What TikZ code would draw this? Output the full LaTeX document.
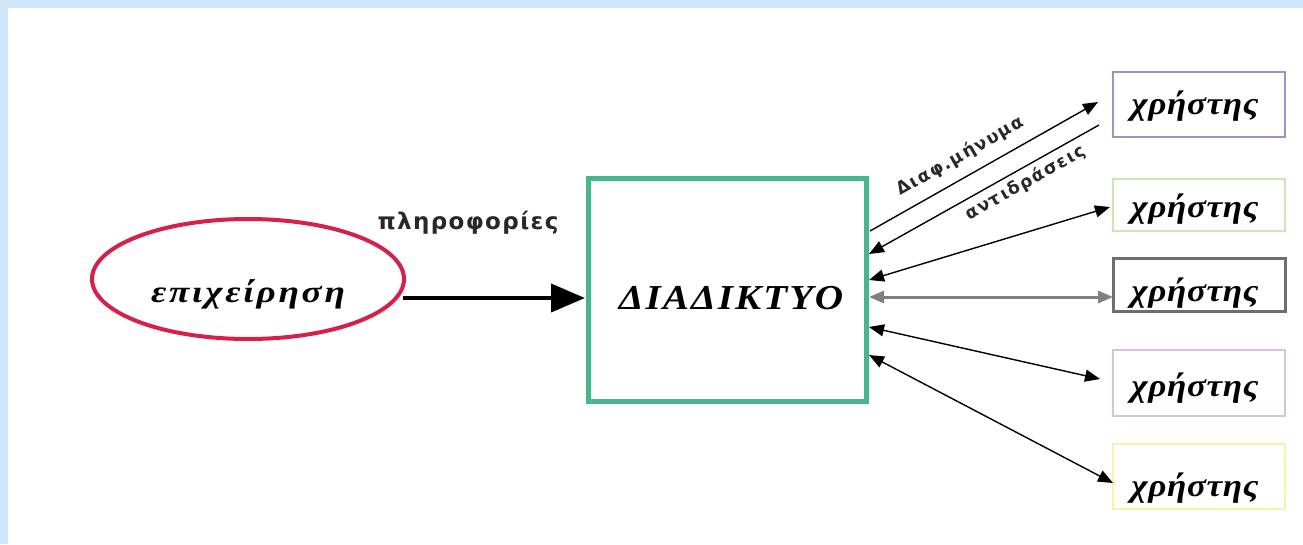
\documentclass[tikz,border=0pt]{standalone}
\usepackage{fontspec}
\setmainfont{Liberation Serif}
\newfontfamily\grkuser[FakeStretch=1.1,LetterSpace=2]{Liberation Serif}
\newfontfamily\grkfirm[FakeStretch=1.2,LetterSpace=9]{Liberation Serif}
\newfontfamily\grknet[FakeStretch=1.12,LetterSpace=6]{Liberation Serif}
\newfontfamily\grkinfo[LetterSpace=6]{DejaVu Sans}
\newfontfamily\grklbl[LetterSpace=9]{DejaVu Sans}
\usetikzlibrary{arrows.meta,shapes.geometric}
\definecolor{bandblue}{RGB}{206,230,250}
\definecolor{ellred}{RGB}{214,32,72}
\definecolor{netgreen}{RGB}{72,182,140}
\definecolor{ubA}{RGB}{150,150,205}
\definecolor{ubB}{RGB}{200,232,180}
\definecolor{ubC}{RGB}{110,110,110}
\definecolor{ubD}{RGB}{212,195,232}
\definecolor{ubE}{RGB}{250,240,170}
\definecolor{midgrey}{RGB}{128,128,128}
\definecolor{txtgrey}{RGB}{40,40,40}
\tikzset{
  userbox/.style={draw, line width=2pt, minimum width=172pt, inner sep=0pt},
  usertext/.style={font=\grkuser\fontsize{32}{36}\selectfont\bfseries\itshape},
  conn/.style={line width=1.4pt, -{Triangle[length=15pt,width=12pt]}},
  biconn/.style={line width=1.4pt, {Triangle[length=15pt,width=12pt]}-{Triangle[length=15pt,width=12pt]}},
  lbl/.style={font=\grklbl\fontsize{17.5}{20}\selectfont\bfseries, text=txtgrey, sloped, inner sep=1pt}
}
\begin{document}
\begin{tikzpicture}[x=1pt,y=-1pt]
\useasboundingbox (0,0) rectangle (1303,544);
\fill[white] (0,0) rectangle (1303,544);
\fill[bandblue] (0,0) rectangle (1303,8);
\fill[bandblue] (0,0) rectangle (8,544);

% business ellipse
\node[ellipse, draw=ellred, line width=4pt, minimum width=312pt, minimum height=120pt, inner sep=0pt] (firm) at (248,279) {};
\node[font=\grkfirm\fontsize{31}{34}\selectfont\bfseries\itshape] (firmtext) at (248,294) {επιχείρηση};

% internet box
\node[draw=netgreen, line width=5pt, minimum width=278pt, minimum height=223pt, inner sep=0pt] (net) at (727,289.5) {};
\node[font=\grknet\fontsize{35}{38}\selectfont\itshape\bfseries] (nettext) at (731,298) {ΔΙΑΔΙΚΤΥΟ};

% label and main arrow
\node[font=\grkinfo\fontsize{23}{26}\selectfont\bfseries, text=txtgrey] (info) at (468,223) {πληροφορίες};
\coordinate (fout) at (403,298);
\coordinate (nin) at (585,298);
\draw[line width=4pt, -{Triangle[length=34pt,width=28pt]}] (fout) -- (nin);

% user boxes
\node[userbox, draw=ubA, minimum height=65pt] (u1) at (1199,104.5) {};
\node[userbox, draw=ubB, minimum height=52pt] (u2) at (1199,205) {};
\node[userbox, draw=ubC, line width=3pt, minimum height=53pt] (u3) at (1199,284.5) {};
\node[userbox, draw=ubD, minimum height=66pt] (u4) at (1199,383) {};
\node[userbox, draw=ubE, minimum height=65pt] (u5) at (1199,476.5) {};
\node[usertext] (t1) at (1195,106) {χρήστης};
\node[usertext] (t2) at (1195,209) {χρήστης};
\node[usertext] (t3) at (1195,293) {χρήστης};
\node[usertext] (t4) at (1195,388) {χρήστης};
\node[usertext] (t5) at (1195,488) {χρήστης};

% connector end points
\coordinate (e1) at (870,231);
\coordinate (e2) at (869,254);
\coordinate (e3) at (869,280);
\coordinate (e4) at (869,297);
\coordinate (e5) at (869,327);
\coordinate (e6) at (869,355);
\coordinate (p1) at (1098,102);
\coordinate (p2) at (1099,125);
\coordinate (p3) at (1110,207);
\coordinate (p4) at (1113,297);
\coordinate (p5) at (1100,379);
\coordinate (p6) at (1113,483);

\draw[conn] (e1) -- node[lbl, above=10pt, pos=0.44] {Διαφ.μήνυμα} (p1);
\draw[conn] (p2) -- node[lbl, below=4pt, pos=0.35] {αντιδράσεις} (e2);
\draw[biconn] (e3) -- (p3);
\draw[biconn, line width=3pt, draw=midgrey] (e4) -- (p4);
\draw[biconn] (e5) -- (p5);
\draw[biconn] (e6) -- (p6);
\end{tikzpicture}
\end{document}
